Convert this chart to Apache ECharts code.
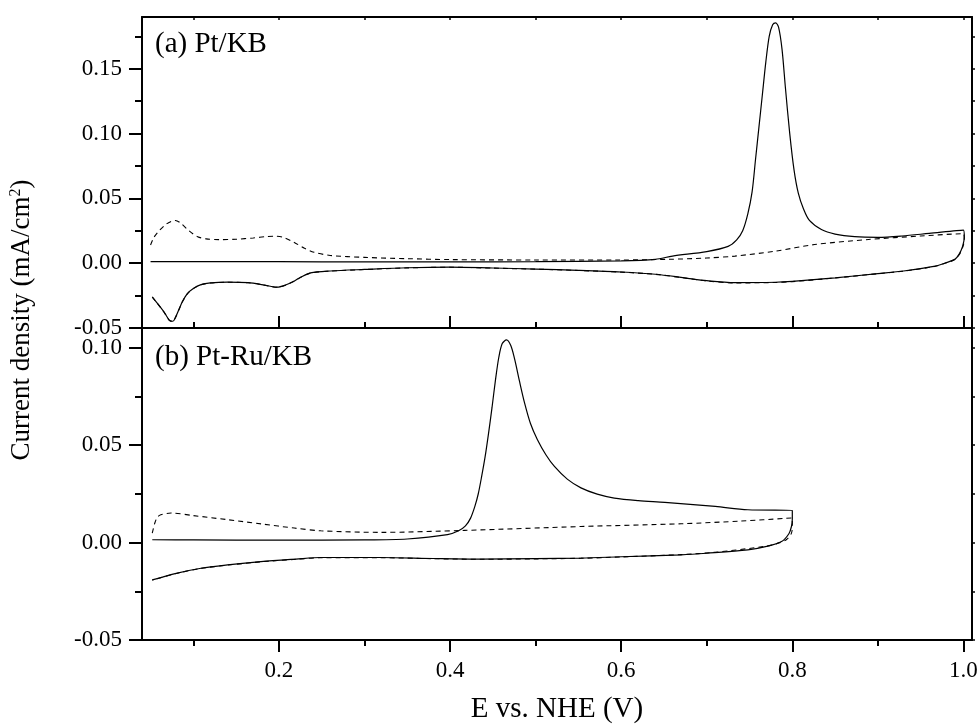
<!DOCTYPE html>
<html>
<head>
<meta charset="utf-8">
<script src="https://cdn.jsdelivr.net/npm/echarts@6/dist/echarts.min.js"></script>
<style>html,body{margin:0;padding:0;background:#fff}#c{width:979px;height:724px}</style>
</head>
<body>
<div id="c"></div>
<script>
// ---- data (E / V vs NHE, current density / mA cm^-2) ----
const ptSolid = [
 [0.050,0.0012],[0.10,0.0012],[0.20,0.0012],[0.30,0.0010],[0.40,0.0010],[0.50,0.0012],[0.60,0.0018],[0.64,0.0030],[0.66,0.0055],[0.70,0.0090],[0.725,0.0130],[0.735,0.0180],[0.742,0.0250],[0.748,0.0380],[0.753,0.055],[0.757,0.080],[0.761,0.105],[0.765,0.130],[0.769,0.155],[0.773,0.175],[0.777,0.184],[0.7805,0.1855],[0.784,0.182],[0.788,0.165],[0.792,0.135],[0.797,0.100],[0.802,0.072],[0.807,0.054],[0.813,0.042],[0.820,0.033],[0.834,0.026],[0.850,0.0225],[0.873,0.0205],[0.90,0.0200],[0.928,0.0210],[0.96,0.0230],[1.000,0.0255],
 [1.001,0.020],[0.999,0.013],[0.995,0.007],[0.99,0.003],[0.98,0.0005],[0.967,-0.0023],[0.93,-0.0060],[0.90,-0.0080],[0.85,-0.0113],[0.80,-0.0140],[0.78,-0.0147],[0.733,-0.0150],[0.70,-0.0135],[0.674,-0.0113],[0.64,-0.0085],[0.60,-0.0068],[0.55,-0.0055],[0.50,-0.0045],[0.45,-0.0037],[0.40,-0.0030],[0.35,-0.0035],[0.30,-0.0048],[0.26,-0.0060],[0.237,-0.0075],[0.225,-0.011],[0.2176,-0.0139],[0.207,-0.0170],[0.198,-0.0185],[0.194,-0.0183],[0.18,-0.0165],[0.164,-0.0150],[0.14,-0.0146],[0.12,-0.0152],[0.109,-0.0165],[0.10,-0.0195],[0.093,-0.0235],[0.087,-0.030],[0.083,-0.0360],[0.079,-0.042],[0.076,-0.0448],[0.072,-0.0440],[0.068,-0.040],[0.065,-0.0370],[0.058,-0.031],[0.052,-0.0260]
];
const ptDashed = [
 [0.050,0.0140],[0.054,0.020],[0.060,0.025],[0.068,0.030],[0.075,0.0325],[0.079,0.0330],[0.085,0.031],[0.095,0.025],[0.105,0.0205],[0.115,0.0188],[0.13,0.0182],[0.15,0.0185],[0.17,0.0195],[0.185,0.0205],[0.195,0.0208],[0.205,0.0200],[0.218,0.0160],[0.23,0.0115],[0.241,0.0085],[0.26,0.0060],[0.30,0.0045],[0.35,0.0035],[0.40,0.0028],[0.50,0.0025],[0.60,0.0025],[0.655,0.0030],[0.70,0.0040],[0.733,0.0055],[0.78,0.0093],[0.826,0.0144],[0.889,0.0183],[0.95,0.0210],[1.000,0.0228],
 [1.001,0.018],[0.999,0.012],[0.995,0.0065],[0.99,0.0028],[0.98,0.0003],[0.967,-0.0024],[0.93,-0.0061],[0.90,-0.0081],[0.85,-0.0114],[0.80,-0.0142],[0.78,-0.0149],[0.733,-0.0152],[0.70,-0.0137],[0.674,-0.0114],[0.64,-0.0086],[0.60,-0.0069],[0.55,-0.0056],[0.50,-0.0046],[0.45,-0.0038],[0.40,-0.0031],[0.35,-0.0036],[0.30,-0.0049],[0.26,-0.0061],[0.237,-0.0076],[0.225,-0.011],[0.2176,-0.0140],[0.207,-0.0171],[0.198,-0.0186],[0.194,-0.0184],[0.18,-0.0166],[0.164,-0.0151],[0.14,-0.0147],[0.12,-0.0153],[0.109,-0.0166],[0.10,-0.0196],[0.093,-0.0236],[0.087,-0.030],[0.083,-0.0361],[0.079,-0.042],[0.076,-0.0449],[0.072,-0.0441],[0.068,-0.040],[0.065,-0.0371],[0.058,-0.031],[0.052,-0.0261]
];
const ptruSolid = [
 [0.052,0.0014],[0.10,0.0013],[0.20,0.0012],[0.30,0.0013],[0.35,0.0018],[0.397,0.0040],[0.410,0.0060],[0.418,0.0085],[0.424,0.0125],[0.429,0.0185],[0.433,0.0250],[0.437,0.0340],[0.441,0.0440],[0.445,0.0560],[0.449,0.0690],[0.453,0.0830],[0.457,0.0950],[0.461,0.1020],[0.466,0.1039],[0.471,0.1010],[0.4755,0.0940],[0.481,0.083],[0.487,0.0717],[0.494,0.061],[0.502,0.0528],[0.512,0.045],[0.522,0.0390],[0.537,0.0325],[0.553,0.0280],[0.572,0.0248],[0.592,0.0228],[0.62,0.0215],[0.651,0.0206],[0.71,0.0185],[0.748,0.0168],[0.800,0.0165],
 [0.800,0.0120],[0.799,0.0082],[0.796,0.0045],[0.7875,0.0005],[0.77,-0.0020],[0.748,-0.0038],[0.70,-0.0055],[0.67,-0.0063],[0.60,-0.0073],[0.553,-0.0080],[0.50,-0.0083],[0.436,-0.0085],[0.38,-0.0082],[0.319,-0.0077],[0.249,-0.0077],[0.22,-0.0085],[0.179,-0.0098],[0.14,-0.0115],[0.109,-0.0132],[0.08,-0.0158],[0.052,-0.0192]
];
const ptruDashed = [
 [0.052,0.0048],[0.055,0.0100],[0.058,0.0130],[0.062,0.0142],[0.074,0.0151],[0.10,0.0138],[0.14,0.0117],[0.18,0.0095],[0.218,0.0074],[0.249,0.0060],[0.319,0.0052],[0.417,0.0062],[0.553,0.0082],[0.67,0.0096],[0.74,0.0110],[0.800,0.0126],
 [0.800,0.0090],[0.799,0.0048],[0.793,0.0014],[0.78,-0.0008],[0.768,-0.0020],[0.71,-0.0050],[0.67,-0.0062],[0.60,-0.0074],[0.553,-0.0081],[0.50,-0.0084],[0.436,-0.0086],[0.38,-0.0083],[0.319,-0.0078],[0.249,-0.0078],[0.22,-0.0086],[0.179,-0.0099],[0.14,-0.0116],[0.109,-0.0133],[0.08,-0.0159],[0.052,-0.0193]
];
const xMajor = [0.2,0.4,0.6,0.8,1.0];
const xMinor = [0.1,0.3,0.5,0.7,0.9];
const xAll = [0.1,0.2,0.3,0.4,0.5,0.6,0.7,0.8,0.9,1.0];
const yMajorA = [-0.05,0.00,0.05,0.10,0.15];
const yMinorA = [-0.025,0.025,0.075,0.125,0.175];
const yMajorB = [-0.05,0.00,0.05,0.10];
const yMinorB = [-0.025,0.025,0.075];
const panelLabels = ['(a) Pt/KB','(b) Pt-Ru/KB'];
const xTitle = 'E vs. NHE (V)';

// ---- chart ----
const FONT = '"Liberation Serif","Times New Roman",serif';
const X_MIN = 0.04, X_MAX = 1.01;
const lineStyleAxis = {color:'#000', width:2};
function xAx(grid, pos, opts){
  return Object.assign({type:'value', gridIndex:grid, position:pos, min:X_MIN, max:X_MAX,
    splitLine:{show:false}, axisLine:{show:false, onZero:false, lineStyle:lineStyleAxis},
    axisTick:{show:false}, axisLabel:{show:false}}, opts);
}
function yAx(grid, pos, min, max, opts){
  return Object.assign({type:'value', gridIndex:grid, position:pos, min:min, max:max,
    splitLine:{show:false}, axisLine:{show:false, onZero:false, lineStyle:lineStyleAxis},
    axisTick:{show:false}, axisLabel:{show:false}}, opts);
}
const tickStyle = {color:'#000', width:2};
const labelStyle = {color:'#000', fontFamily:FONT, fontSize:23};
const fmt2 = v => (Math.abs(v) < 1e-9 ? '0.00' : v.toFixed(2));
const lineOn = {show:true, onZero:false, lineStyle:lineStyleAxis};
const lineOff = {show:false, onZero:false};

const option = {
  backgroundColor:'#fff',
  animation:false,
  grid:[
    {left:142, top:17, width:830, height:311, containLabel:false, outerBoundsMode:'none'},
    {left:142, top:328, width:830, height:312, containLabel:false, outerBoundsMode:'none'}
  ],
  xAxis:[
    // top panel
    xAx(0,'bottom',{axisLine:lineOn, axisTick:{show:true,inside:true,length:12,customValues:xMajor,lineStyle:tickStyle}}),
    xAx(0,'bottom',{axisLine:lineOff, axisTick:{show:true,inside:true,length:6,customValues:xMinor,lineStyle:tickStyle}}),
    xAx(0,'top',{axisLine:lineOn, axisTick:{show:true,inside:true,length:3,customValues:xAll,lineStyle:{color:'#000',width:1.5}}}),
    // bottom panel
    xAx(1,'bottom',{axisLine:lineOn, axisTick:{show:true,inside:false,length:12,customValues:xMajor,lineStyle:tickStyle},
      axisLabel:Object.assign({show:true,margin:19,customValues:xMajor,formatter:v=>v.toFixed(1)},labelStyle),
      name:xTitle, nameLocation:'middle', nameGap:55, nameTextStyle:{color:'#000',fontFamily:FONT,fontSize:29}}),
    xAx(1,'bottom',{axisLine:lineOff, axisTick:{show:true,inside:false,length:6,customValues:xMinor,lineStyle:tickStyle}}),
    xAx(1,'top',{axisLine:lineOn})
  ],
  yAxis:[
    yAx(0,'left',-0.05,0.19,{axisLine:lineOn, axisTick:{show:true,inside:false,length:13,customValues:yMajorA,lineStyle:tickStyle},
      axisLabel:Object.assign({show:true,margin:20,customValues:yMajorA,formatter:fmt2},labelStyle)}),
    yAx(0,'left',-0.05,0.19,{axisLine:lineOff, axisTick:{show:true,inside:false,length:7,customValues:yMinorA,lineStyle:tickStyle}}),
    yAx(0,'right',-0.05,0.19,{axisLine:lineOn, axisTick:{show:true,inside:false,length:3,customValues:yMajorA.concat(yMinorA),lineStyle:{color:'#000',width:1.5}}}),
    yAx(1,'left',-0.05,0.11,{axisLine:lineOn, axisTick:{show:true,inside:false,length:13,customValues:yMajorB,lineStyle:tickStyle},
      axisLabel:Object.assign({show:true,margin:20,customValues:yMajorB,formatter:fmt2},labelStyle)}),
    yAx(1,'left',-0.05,0.11,{axisLine:lineOff, axisTick:{show:true,inside:false,length:7,customValues:yMinorB,lineStyle:tickStyle}}),
    yAx(1,'right',-0.05,0.11,{axisLine:lineOn, axisTick:{show:true,inside:false,length:3,customValues:yMajorB.concat(yMinorB),lineStyle:{color:'#000',width:1.5}}})
  ],
  series:[
    {type:'line', xAxisIndex:0, yAxisIndex:0, data:ptSolid, showSymbol:false, smooth:0.3, lineStyle:{color:'#000',width:1.2}},
    {type:'line', xAxisIndex:0, yAxisIndex:0, data:ptDashed, showSymbol:false, smooth:0.3, lineStyle:{color:'#000',width:1.1,type:[5,4]}},
    {type:'line', xAxisIndex:3, yAxisIndex:3, data:ptruSolid, showSymbol:false, smooth:0.3, lineStyle:{color:'#000',width:1.2}},
    {type:'line', xAxisIndex:3, yAxisIndex:3, data:ptruDashed, showSymbol:false, smooth:0.3, lineStyle:{color:'#000',width:1.1,type:[5,4]}}
  ],
  graphic:[
    {type:'text', left:155, top:30, style:{text:panelLabels[0], fill:'#000', font:'29px '+FONT}},
    {type:'text', left:155, top:343, style:{text:panelLabels[1], fill:'#000', font:'29px '+FONT}},
    {type:'text', x:22, y:320, rotation:Math.PI/2, style:{
      text:'Current density (mA/cm{sup|2})', fill:'#000', font:'27px '+FONT, align:'center', verticalAlign:'middle',
      rich:{sup:{fontSize:16, fontFamily:FONT, verticalAlign:'top', padding:[0,0,12,0], fill:'#000'}}}}
  ]
};
const chart = echarts.init(document.getElementById('c'), null, {renderer:'canvas'});
chart.setOption(option);
</script>
</body>
</html>
